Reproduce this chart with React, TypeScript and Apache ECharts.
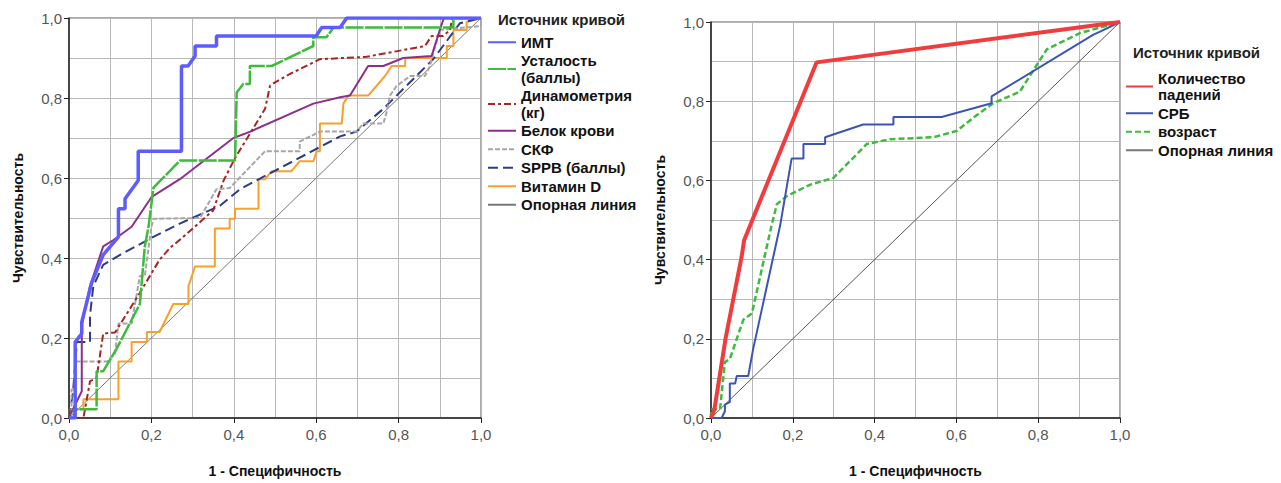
import React, { useEffect, useRef } from "react";
import * as echarts from "echarts";

// ---------- Left panel data ----------
const leftNames = [
  "ИМТ",
  "Усталость\n(баллы)",
  "Динамометрия\n(кг)",
  "Белок крови",
  "СКФ",
  "SPPB (баллы)",
  "Витамин D",
  "Опорная линия",
];

const imt: number[][] = [
  [0, 0], [0.015, 0], [0.015, 0.19], [0.031, 0.211], [0.031, 0.24], [0.055, 0.338],
  [0.083, 0.408], [0.12, 0.453], [0.12, 0.523], [0.136, 0.523], [0.136, 0.548],
  [0.168, 0.594], [0.168, 0.667], [0.273, 0.667], [0.273, 0.88], [0.289, 0.88],
  [0.306, 0.905], [0.306, 0.93], [0.358, 0.93], [0.358, 0.955], [0.6, 0.955],
  [0.613, 0.976], [0.658, 0.976], [0.674, 1], [1, 1],
];

const fatigue: number[][] = [
  [0, 0], [0.012, 0], [0.012, 0.022], [0.067, 0.022], [0.067, 0.117], [0.083, 0.117],
  [0.116, 0.174], [0.172, 0.285], [0.184, 0.429], [0.193, 0.478], [0.205, 0.576],
  [0.27, 0.644], [0.403, 0.644], [0.407, 0.814], [0.423, 0.835], [0.439, 0.835],
  [0.439, 0.88], [0.492, 0.88], [0.593, 0.93], [0.593, 0.952], [0.625, 0.952],
  [0.642, 0.976], [0.933, 0.976], [0.933, 1], [1, 1],
];

const dynamo: number[][] = [
  [0, 0], [0.035, 0], [0.051, 0.092], [0.067, 0.1], [0.083, 0.211], [0.112, 0.214],
  [0.172, 0.313], [0.22, 0.396], [0.245, 0.425], [0.273, 0.449], [0.35, 0.519],
  [0.375, 0.593], [0.403, 0.65], [0.447, 0.724], [0.476, 0.773], [0.488, 0.831],
  [0.5, 0.839], [0.536, 0.86], [0.609, 0.897], [0.722, 0.903], [0.864, 0.93],
  [0.88, 0.955], [0.908, 0.955], [0.925, 0.97], [0.93, 1], [1, 1],
];

const protein: number[][] = [
  [0, 0], [0.002, 0.006], [0.031, 0.067], [0.031, 0.232], [0.051, 0.33], [0.083, 0.429],
  [0.108, 0.445], [0.152, 0.478], [0.2, 0.552], [0.269, 0.597], [0.399, 0.7],
  [0.44, 0.716], [0.593, 0.786], [0.658, 0.802], [0.682, 0.806], [0.726, 0.88],
  [0.763, 0.88], [0.811, 0.9], [0.88, 0.905], [0.9, 0.97], [0.91, 1], [1, 1],
];

const skf: number[][] = [
  [0, 0], [0.006, 0], [0.006, 0.071], [0.015, 0.071], [0.015, 0.141], [0.092, 0.141],
  [0.112, 0.162], [0.12, 0.236], [0.152, 0.236], [0.172, 0.355], [0.184, 0.355],
  [0.2, 0.478], [0.205, 0.498], [0.318, 0.5], [0.358, 0.572], [0.39, 0.575],
  [0.476, 0.667], [0.56, 0.667], [0.56, 0.691], [0.609, 0.716], [0.698, 0.716],
  [0.714, 0.736], [0.763, 0.736], [0.771, 0.765], [0.779, 0.806], [0.795, 0.83],
  [0.828, 0.855], [0.864, 0.855], [0.876, 0.88], [0.9, 0.97], [1, 0.98], [1, 1],
];

const sppb: number[][] = [
  [0, 0], [0.01, 0.067], [0.019, 0.19], [0.051, 0.19], [0.051, 0.256], [0.059, 0.33],
  [0.083, 0.383], [0.124, 0.408], [0.205, 0.453], [0.269, 0.486], [0.367, 0.531],
  [0.415, 0.572], [0.658, 0.704], [0.698, 0.716], [0.763, 0.773], [0.884, 0.897],
  [0.949, 0.987], [1, 1],
];

const vitD: number[][] = [
  [0, 0], [0.002, 0.022], [0.035, 0.022], [0.035, 0.047], [0.12, 0.047], [0.12, 0.141],
  [0.152, 0.141], [0.152, 0.19], [0.189, 0.19], [0.189, 0.215], [0.22, 0.215],
  [0.253, 0.285], [0.29, 0.285], [0.29, 0.33], [0.306, 0.379], [0.354, 0.379],
  [0.354, 0.474], [0.39, 0.474], [0.39, 0.498], [0.403, 0.498], [0.403, 0.523],
  [0.46, 0.523], [0.46, 0.597], [0.476, 0.597], [0.492, 0.617], [0.54, 0.617],
  [0.56, 0.642], [0.593, 0.642], [0.601, 0.667], [0.609, 0.667], [0.609, 0.736],
  [0.662, 0.736], [0.666, 0.786], [0.678, 0.806], [0.726, 0.806], [0.767, 0.855],
  [0.783, 0.88], [0.816, 0.88], [0.816, 0.9], [0.917, 0.9], [0.917, 0.93],
  [0.933, 0.93], [0.933, 0.97], [0.965, 0.97], [0.965, 0.99], [1, 1],
];

const refLine: number[][] = [[0, 0], [1, 1]];

// ---------- Right panel data ----------
const rightNames = ["Количество\nпадений", "СРБ", "возраст", "Опорная линия"];

const falls: number[][] = [
  [0, 0], [0.008, 0.02], [0.036, 0.203], [0.075, 0.408], [0.081, 0.449], [0.258, 0.898], [1, 1],
];

const crp: number[][] = [
  [0, 0], [0.026, 0], [0.034, 0.017], [0.034, 0.034], [0.046, 0.04], [0.046, 0.087],
  [0.059, 0.087], [0.063, 0.106], [0.091, 0.106], [0.103, 0.174], [0.169, 0.486],
  [0.197, 0.655], [0.226, 0.655], [0.226, 0.692], [0.279, 0.692], [0.279, 0.709],
  [0.372, 0.741], [0.446, 0.741], [0.446, 0.76], [0.564, 0.76], [0.686, 0.795],
  [0.686, 0.812], [0.935, 0.968], [0.95, 0.975], [1, 1],
];

const age: number[][] = [
  [0, 0], [0, 0.022], [0.022, 0.022], [0.034, 0.141], [0.046, 0.149], [0.079, 0.248],
  [0.1, 0.264], [0.148, 0.486], [0.161, 0.54], [0.185, 0.56], [0.242, 0.589],
  [0.299, 0.606], [0.381, 0.692], [0.438, 0.704], [0.544, 0.709], [0.601, 0.725],
  [0.641, 0.758], [0.69, 0.795], [0.755, 0.824], [0.821, 0.931], [0.902, 0.972], [1, 1],
];

const tickFmt = (v: number) => v.toFixed(1).replace(".", ",");

const FONT = "Liberation Sans, Arial, sans-serif";

function makeXAxis(gridIndex: number) {
  return {
    type: "value",
    gridIndex,
    min: 0,
    max: 1,
    interval: 0.2,
    name: "1 - Специфичность",
    nameLocation: "middle",
    nameGap: 46,
    nameTextStyle: { fontFamily: FONT, fontWeight: "bold", fontSize: 14, color: "#111" },
    axisLine: { show: true, lineStyle: { color: "#222", width: 1.5 } },
    axisTick: { show: true, length: 5, lineStyle: { color: "#222" } },
    axisLabel: { formatter: tickFmt, fontFamily: FONT, fontSize: 15, color: "#555", margin: 9 },
    splitLine: { show: true, lineStyle: { color: "#b8b8b8", width: 1 } },
    minorTick: { show: false, splitNumber: 2 },
    minorSplitLine: { show: true, lineStyle: { color: "#b8b8b8", width: 1 } },
  };
}

function makeYAxis(gridIndex: number) {
  return {
    type: "value",
    gridIndex,
    min: 0,
    max: 1,
    interval: 0.2,
    name: "Чувствительность",
    nameLocation: "middle",
    nameGap: 44,
    nameRotate: 90,
    nameTextStyle: { fontFamily: FONT, fontWeight: "bold", fontSize: 14, color: "#111" },
    axisLine: { show: true, lineStyle: { color: "#222", width: 1.5 } },
    axisTick: { show: true, length: 5, lineStyle: { color: "#222" } },
    axisLabel: { formatter: tickFmt, fontFamily: FONT, fontSize: 15, color: "#555", margin: 7 },
    splitLine: { show: true, lineStyle: { color: "#b8b8b8", width: 1 } },
    minorTick: { show: false, splitNumber: 2 },
    minorSplitLine: { show: true, lineStyle: { color: "#b8b8b8", width: 1 } },
  };
}

function lineSeries(name: string, data: number[][], idx: number, color: string, width: number, type: any, z = 2) {
  return {
    type: "line",
    name,
    data,
    xAxisIndex: idx,
    yAxisIndex: idx,
    showSymbol: false,
    symbol: "none",
    z,
    lineStyle: { color, width, type },
    itemStyle: { color },
  };
}

export default function App() {
  const ref = useRef<HTMLDivElement>(null);

  useEffect(() => {
    if (!ref.current) return;
    const chart = echarts.init(ref.current, undefined, { renderer: "svg" });
    const legendText = { fontFamily: FONT, fontWeight: "bold", fontSize: 15, color: "#111", lineHeight: 16.5 };
    const hiddenSymbol = { color: "transparent", borderColor: "transparent", borderWidth: 0, opacity: 0 };
    const titleStyle = { fontFamily: FONT, fontWeight: "bold", fontSize: 15, color: "#222" };
    chart.setOption({
      animation: false,
      backgroundColor: "#fff",
      title: [
        { text: "Источник кривой", left: 493, top: 7, textStyle: titleStyle },
        { text: "Источник кривой", left: 1128, top: 40, textStyle: titleStyle },
      ],
      grid: [
        { left: 69, top: 18, width: 412, height: 406, show: true, borderColor: "#555", borderWidth: 1, backgroundColor: "transparent" },
        { left: 711, top: 22, width: 409, height: 405, show: true, borderColor: "#555", borderWidth: 1, backgroundColor: "transparent" },
      ],
      xAxis: [makeXAxis(0), makeXAxis(1)],
      yAxis: [makeYAxis(0), makeYAxis(1)],
      legend: [
        {
          data: leftNames,
          orient: "vertical",
          left: 482,
          top: 29,
          itemWidth: 28,
          itemHeight: 12,
          itemGap: 2,
          selectedMode: false,
          itemStyle: hiddenSymbol,
          textStyle: legendText,
        },
        {
          data: rightNames,
          orient: "vertical",
          left: 1120,
          top: 65,
          itemWidth: 27,
          itemHeight: 12,
          itemGap: 2,
          selectedMode: false,
          itemStyle: hiddenSymbol,
          textStyle: legendText,
        },
      ],
      series: [
        lineSeries(leftNames[7], refLine, 0, "#777777", 1, "solid", 1),
        lineSeries(leftNames[6], vitD, 0, "#f8a02a", 2, "solid"),
        lineSeries(leftNames[5], sppb, 0, "#2f3b88", 2, [10, 5]),
        lineSeries(leftNames[4], skf, 0, "#a6a6a6", 2, [5, 2]),
        lineSeries(leftNames[3], protein, 0, "#8c2f8c", 2, "solid"),
        lineSeries(leftNames[2], dynamo, 0, "#a82424", 2, [7, 3, 3, 3]),
        lineSeries(leftNames[1], fatigue, 0, "#3cbb3c", 2.5, [18, 1.5]),
        lineSeries(leftNames[0], imt, 0, "#5c5cff", 3.5, "solid"),
        lineSeries(rightNames[3], refLine, 1, "#555555", 1, "solid", 1),
        lineSeries(rightNames[2], age, 1, "#3cbb3c", 2.5, [6, 3]),
        lineSeries(rightNames[1], crp, 1, "#3c55b4", 2, "solid"),
        lineSeries(rightNames[0], falls, 1, "#f03c3c", 4, "solid"),
      ],
    });
    return () => chart.dispose();
  }, []);

  return (
    <div
      ref={ref}
      style={{ position: "absolute", left: 0, top: 0, width: 1281, height: 483, background: "#fff" }}
    />
  );
}
